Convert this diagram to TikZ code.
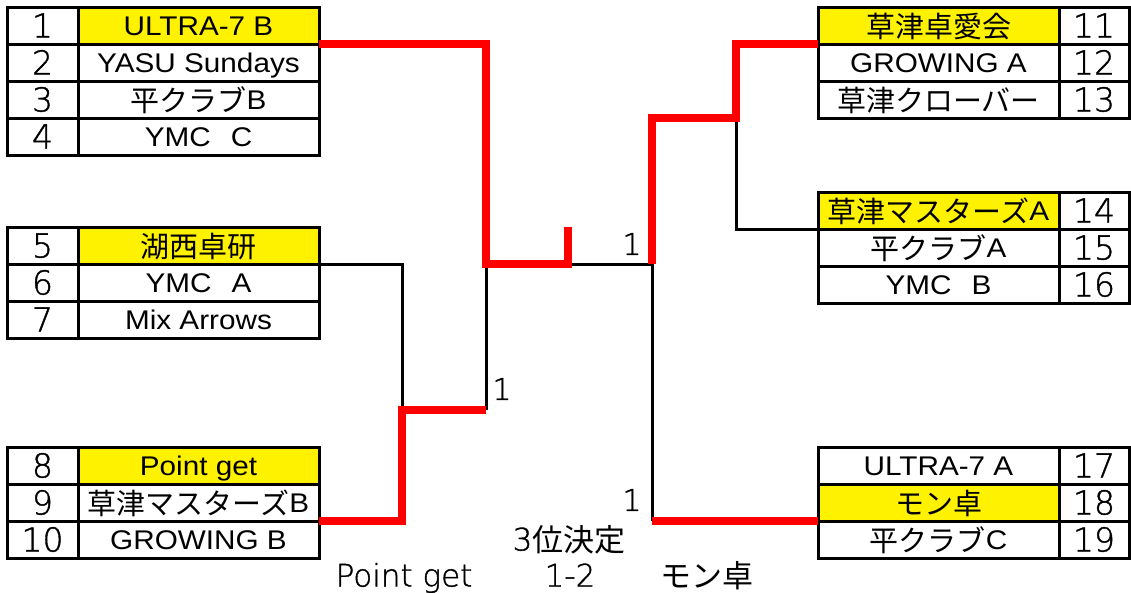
\documentclass[tikz,border=0pt]{standalone}
\usepackage{fontspec}
\setmainfont{Liberation Sans}[FakeStretch=1.1]
\newfontfamily\jp{Noto Sans CJK JP}
\newfontfamily\thin{DejaVu Sans ExtraLight}[FakeBold=1.2]
\newcommand\jpt[1]{\raisebox{-2pt}{\jp\fontsize{29}{29}\selectfont #1}}
\newcommand\jpb[1]{\raisebox{-1pt}{\jp #1}}
\begin{document}
\begin{tikzpicture}[x=1pt,y=-1pt,
  cell/.style={draw,line width=3pt,inner sep=0pt,outer sep=0pt,minimum height=37pt},
  numcell/.style={cell,minimum width=71pt,text height=24pt,text depth=0pt,font=\thin\fontsize{33}{33}\selectfont},
  rnumcell/.style={numcell,minimum width=70pt},
  namecell/.style={cell,minimum width=241pt,text height=19pt,text depth=0pt,font=\fontsize{27}{27}\selectfont},
  win/.style={fill=yellow},
  redline/.style={draw=red,line width=8pt},
  blackline/.style={draw=black,line width=3pt},
  lbl/.style={inner sep=0pt,font=\thin\fontsize{30}{30}\selectfont},
  blbl/.style={inner sep=0pt,text height=23pt,text depth=0pt,font=\thin\fontsize{31}{31}\selectfont}]
\useasboundingbox (0,0) rectangle (1131,592);
% ---- left table 1
\node[numcell] (L1) at (42.5,25.5) {1};
\node[namecell,win] (L1n) at (198.5,25.5) {ULTRA-7 B};
\node[numcell] (L2) at (42.5,62.5) {2};
\node[namecell] (L2n) at (198.5,62.5) {YASU Sundays};
\node[numcell] (L3) at (42.5,99.5) {3};
\node[namecell] (L3n) at (198.5,99.5) {\jpt{平クラブ}B};
\node[numcell] (L4) at (42.5,136.5) {4};
\node[namecell] (L4n) at (198.5,136.5) {YMC\hskip 20pt C};
% ---- left table 2
\node[numcell] (L5) at (42.5,245.5) {5};
\node[namecell,win] (L5n) at (198.5,245.5) {\jpt{湖西卓研}};
\node[numcell] (L6) at (42.5,282.5) {6};
\node[namecell] (L6n) at (198.5,282.5) {YMC\hskip 20pt A};
\node[numcell] (L7) at (42.5,319.5) {7};
\node[namecell] (L7n) at (198.5,319.5) {Mix Arrows};
% ---- left table 3
\node[numcell] (L8) at (42.5,465.5) {8};
\node[namecell,win] (L8n) at (198.5,465.5) {Point get};
\node[numcell] (L9) at (42.5,502.5) {9};
\node[namecell] (L9n) at (198.5,502.5) {\jpt{草津マスターズ}B};
\node[numcell] (L10) at (42.5,539.5) {10};
\node[namecell] (L10n) at (198.5,539.5) {GROWING B};
% ---- right table 1
\node[namecell,win] (R11n) at (938.5,25.5) {\jpt{草津卓愛会}};
\node[rnumcell] (R11) at (1094,25.5) {11};
\node[namecell] (R12n) at (938.5,62.5) {GROWING A};
\node[rnumcell] (R12) at (1094,62.5) {12};
\node[namecell] (R13n) at (938.5,99.5) {\jpt{草津クローバー}};
\node[rnumcell] (R13) at (1094,99.5) {13};
% ---- right table 2
\node[namecell,win] (R14n) at (938.5,210.5) {\jpt{草津マスターズ}A};
\node[rnumcell] (R14) at (1094,210.5) {14};
\node[namecell] (R15n) at (938.5,247.5) {\jpt{平クラブ}A};
\node[rnumcell] (R15) at (1094,247.5) {15};
\node[namecell] (R16n) at (938.5,284.5) {YMC\hskip 20pt B};
\node[rnumcell] (R16) at (1094,284.5) {16};
% ---- right table 3
\node[namecell] (R17n) at (938.5,465.5) {ULTRA-7 A};
\node[rnumcell] (R17) at (1094,465.5) {17};
\node[namecell,win] (R18n) at (938.5,502.5) {\jpt{モン卓}};
\node[rnumcell] (R18) at (1094,502.5) {18};
\node[namecell] (R19n) at (938.5,539.5) {\jpt{平クラブ}C};
\node[rnumcell] (R19) at (1094,539.5) {19};
% ---- junctions
\coordinate (jL) at (486,264);
\coordinate (stub) at (568,264);
\coordinate (stubtop) at (568,227);
\coordinate (jR) at (652,264);
\coordinate (q1) at (402,410);
\coordinate (q2) at (486,410);
\coordinate (r1) at (652,118);
\coordinate (r2) at (736,118);
\coordinate (r3) at (652,521);
% ---- black connectors
\draw[blackline] (L5n.south east) -| (q1);
\draw[blackline] (q2) -- (jL);
\draw[blackline] (stub) -- (jR);
\draw[blackline] (r2) |- (R14n.south west);
\draw[blackline] (jR) -- (r3);
% ---- red connectors
\draw[redline] (L1n.south east) -| (jL) -- (stub) -- (stubtop);
\draw[redline] (L9n.south east) -| (q1) -- (q2);
\draw[redline] (jR) -- (r1) -- (r2) |- (R11n.south west);
\draw[redline] (r3) -- (R18n.south west);
% ---- scores
\node[lbl] (s1) at (632,244) {1};
\node[lbl] (s2) at (502,389) {1};
\node[lbl] (s3) at (632,500) {1};
% ---- third place
\node[blbl] (third) at (569,539) {3\jpb{位決定}};
\node[blbl] (pg) at (404,575) {Point get};
\node[blbl] (score) at (570,575) {1-2};
\node[blbl] (mon) at (707,575) {\jpb{モン卓}};
\end{tikzpicture}
\end{document}
